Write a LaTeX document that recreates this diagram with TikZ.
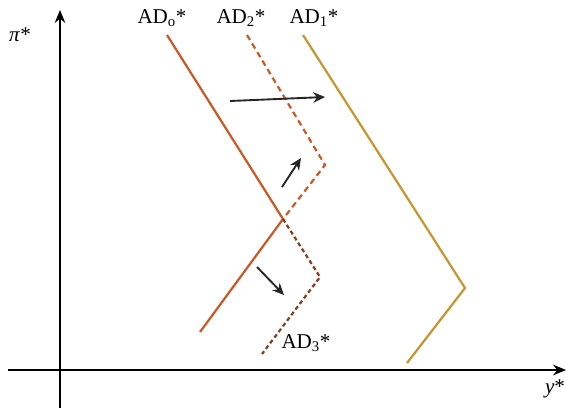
\documentclass[tikz,border=0pt]{standalone}
\usepackage{fontspec}
\setmainfont{Liberation Serif}
\usetikzlibrary{arrows.meta,calc}
\definecolor{ADRed}{RGB}{204,88,38}
\definecolor{ADBrown}{RGB}{140,62,28}
\definecolor{ADGold}{RGB}{200,150,48}

\begin{document}
\begin{tikzpicture}[x=0.03cm,y=-0.03cm,>=Stealth]
    \tikzset{curve/.style={line width=1.9pt},
      move/.style={line width=1.6pt,black!85,-{Stealth[length=10pt,width=9pt]}},
      lbl/.style={inner sep=0pt,font=\fontsize{18}{21}\selectfont}}
    \useasboundingbox (0,0) rectangle (566,409);
    % axes
    \coordinate (o1) at (60,408);
    \coordinate (o2) at (60,10);
    \coordinate (h1) at (8,370);
    \coordinate (h2) at (566,370);
    \draw[line width=1.5pt,-{Stealth[length=11pt,width=9pt]}] (o1) -- (o2);
    \draw[line width=1.5pt,-{Stealth[length=11pt,width=9pt]}] (h1) -- (h2);
    \node[lbl] (pi) at (20,35) {\textit{π}*};
    \node[lbl] (y) at (555,389) {\textit{y}*};
    % curves
    \coordinate (k) at (283,219);
    \draw[curve,ADRed] (167,35) -- (k) -- (200,332);
    \draw[curve,ADRed,dash pattern=on 5pt off 3.5pt] (247,35) -- (325,165) -- (k);
    \draw[curve,ADBrown,dash pattern=on 3.5pt off 2.5pt] (k) -- (320,277) -- (262,354);
    \draw[curve,ADGold] (303,35) -- (465,288) -- (407,363);
    % labels
    \node[lbl] (ad0) at (162,18) {AD\textsubscript{o}*};
    \node[lbl] (ad2) at (241,18) {AD\textsubscript{2}*};
    \node[lbl] (ad1) at (314,18) {AD\textsubscript{1}*};
    \node[lbl] (ad3) at (306,343) {AD\textsubscript{3}*};
    % shifts
    \coordinate (a1) at (230,101);
    \coordinate (b1) at (325,97);
    \coordinate (a2) at (282,187);
    \coordinate (b2) at (301,158);
    \coordinate (a3) at (257,267);
    \coordinate (b3) at (284,295);
    \draw[move] (a1) -- (b1);
    \draw[move] (a2) -- (b2);
    \draw[move] (a3) -- (b3);
\end{tikzpicture}
\end{document}
